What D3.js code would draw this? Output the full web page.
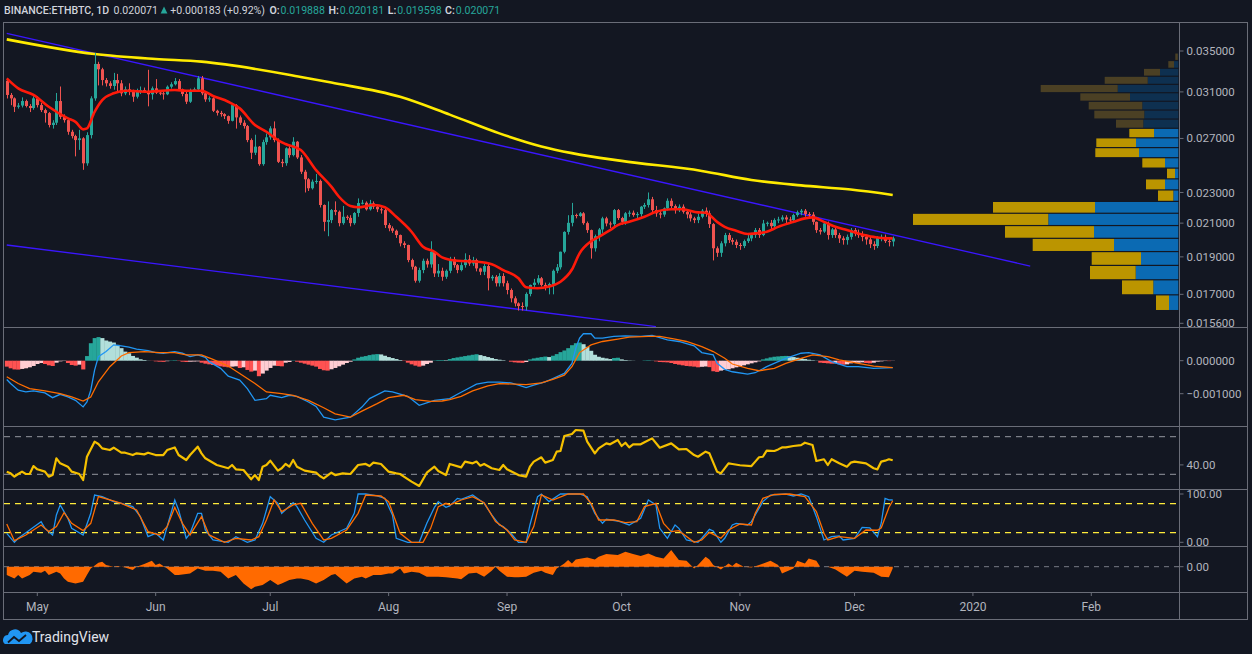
<!DOCTYPE html>
<html>
<head>
<meta charset="utf-8">
<title>ETHBTC 1D</title>
<script src="https://cdn.jsdelivr.net/npm/d3@7/dist/d3.min.js"></script>
<style>
  body { margin: 0; background: #131722; }
  svg { display: block; font-family: Roboto, "Liberation Sans", sans-serif; }
</style>
</head>
<body>
<div id="chart"></div>
<script>
//------------------------------ DATA ------------------------------//
// daily candles, first one is 2019-04-23
const firstDay = Date.UTC(2019, 3, 23);
const firstOpen = 0.03204;
const closes = [
 .03072,.03041,.02966,.02977,.03017,.02973,.02955,.03041,.02981,.02937,
 .02911,.02810,.02829,.03017,.02879,.02851,.02754,.02719,.02687,.02701,
 .02508,.02727,.03041,.03368,.03315,.03211,.03180,.03155,.03211,.03180,
 .03087,.03124,.03102,.03056,.03111,.03117,.03102,.03078,.03133,.03093,
 .03087,.03078,.03148,.03171,.03201,.03124,.03081,.03011,.03117,.03124,
 .03228,.03087,.03032,.03041,.02931,.02913,.02902,.02885,.02845,.02981,
 .02874,.02829,.02801,.02687,.02588,.02635,.02502,.02671,.02709,.02782,
 .02687,.02519,.02509,.02622,.02570,.02674,.02552,.02446,.02392,.02329,
 .02375,.02380,.02216,.02108,.02119,.02183,.02172,.02100,.02140,.02133,
 .02100,.02164,.02229,.02231,.02188,.02227,.02205,.02188,.02183,.02088,
 .02068,.02053,.02027,.01978,.01968,.01882,.01845,.01770,.01827,.01878,
 .01858,.01929,.01809,.01823,.01791,.01823,.01886,.01854,.01827,.01854,
 .01886,.01863,.01882,.01836,.01818,.01849,.01783,.01791,.01757,.01795,
 .01757,.01722,.01680,.01655,.01642,.01639,.01702,.01748,.01760,.01783,
 .01748,.01739,.01753,.01823,.01842,.01929,.02046,.02102,.02151,.02145,
 .02162,.02100,.02057,.01949,.02020,.02061,.02130,.02098,.02094,.02183,
 .02132,.02108,.02162,.02166,.02151,.02157,.02205,.02216,.02254,.02183,
 .02162,.02154,.02194,.02244,.02209,.02183,.02205,.02172,.02155,.02130,
 .02119,.02140,.02179,.02162,.02094,.01949,.01923,.01978,.02027,.01997,
 .01987,.01968,.01962,.01991,.02007,.02027,.02057,.02027,.02098,.02102,
 .02081,.02119,.02123,.02136,.02123,.02119,.02151,.02168,.02179,.02157,
 .02154,.02108,.02057,.02048,.02098,.02027,.02061,.02027,.02007,.01997,
 .02016,.02057,.02037,.02027,.02016,.02001,.01973,.01962,.02013,.02016,
 .01991,.019888,.020071
];
const highs = [
 .0323,.0309,.0305,.0300,.0305,.0303,.0299,.0306,.0306,.0300,
 .0295,.0292,.0285,.0309,.0315,.0290,.0287,.0277,.0273,.0277,
 .0271,.0275,.0306,.0348,.0339,.0333,.0323,.0320,.0328,.0327,
 .0321,.0315,.0318,.0312,.0313,.0315,.0314,.0331,.0315,.0322,
 .0311,.0311,.0316,.0319,.0323,.0322,.0313,.0310,.0313,.0314,
 .0325,.0325,.0310,.0306,.0305,.0294,.0293,.0291,.0289,.0300,
 .0299,.0289,.0285,.0281,.0270,.0273,.0264,.0269,.0274,.0280,
 .0284,.0270,.0254,.0263,.0264,.0271,.0268,.0257,.0246,.0240,
 .0239,.0243,.0239,.0222,.0224,.0219,.0224,.0218,.0221,.0215,
 .0215,.0217,.0226,.0225,.0224,.0225,.0224,.0222,.0220,.0219,
 .0210,.0208,.0206,.0203,.0199,.0197,.0189,.0185,.0184,.0189,
 .0189,.0199,.0193,.0186,.0184,.0183,.0190,.0190,.0186,.0187,
 .0192,.0191,.0190,.0189,.0184,.0186,.0186,.0180,.0180,.0181,
 .0181,.0177,.0173,.0169,.0166,.0166,.0171,.0175,.0178,.0180,
 .0179,.0176,.0176,.0183,.0186,.0193,.0205,.0215,.0223,.0216,
 .0217,.0217,.0211,.0206,.0203,.0207,.0214,.0214,.0211,.0219,
 .0219,.0214,.0217,.0218,.0218,.0217,.0221,.0223,.0230,.0227,
 .0221,.0218,.0220,.0226,.0226,.0222,.0222,.0222,.0218,.0217,
 .0214,.0216,.0219,.0220,.0218,.0210,.0196,.0199,.0204,.0204,
 .0201,.0200,.0198,.0200,.0203,.0204,.0207,.0207,.0212,.0211,
 .0212,.0213,.0214,.0215,.0215,.0214,.0216,.0218,.0219,.0219,
 .0217,.0217,.0211,.0207,.0211,.0211,.0207,.0207,.0204,.0202,
 .0203,.0207,.0207,.0206,.0205,.0203,.0202,.0199,.0202,.0203,
 .0203,.0201,.020181
];
const lows = [
 .0304,.0298,.0292,.0295,.0296,.0296,.0292,.0294,.0296,.0292,
 .0283,.0279,.0278,.0281,.0286,.0283,.0273,.0270,.0256,.0261,
 .0246,.0249,.0270,.0302,.0316,.0316,.0315,.0313,.0312,.0310,
 .0306,.0307,.0307,.0301,.0304,.0308,.0309,.0297,.0303,.0308,
 .0307,.0303,.0307,.0313,.0316,.0311,.0306,.0299,.0300,.0310,
 .0311,.0307,.0301,.0301,.0292,.0289,.0288,.0286,.0282,.0284,
 .0278,.0281,.0278,.0267,.0254,.0257,.0249,.0249,.0265,.0269,
 .0267,.0251,.0248,.0249,.0255,.0256,.0254,.0243,.0230,.0231,
 .0232,.0236,.0220,.0205,.0202,.0210,.0215,.0208,.0209,.0212,
 .0208,.0209,.0214,.0222,.0218,.0218,.0219,.0217,.0216,.0207,
 .0205,.0204,.0201,.0196,.0195,.0187,.0183,.0176,.0176,.0181,
 .0184,.0184,.0179,.0179,.0177,.0178,.0181,.0184,.0181,.0182,
 .0184,.0185,.0185,.0182,.0180,.0180,.0172,.0177,.0174,.0174,
 .0174,.0170,.0166,.0164,.0162,.0162,.0162,.0169,.0173,.0175,
 .0174,.0172,.0170,.0170,.0181,.0183,.0192,.0203,.0208,.0213,
 .0214,.0209,.0204,.0189,.0193,.0199,.0204,.0208,.0207,.0208,
 .0212,.0209,.0209,.0214,.0214,.0213,.0214,.0219,.0220,.0217,
 .0214,.0213,.0214,.0218,.0219,.0216,.0217,.0216,.0213,.0211,
 .0210,.0210,.0213,.0214,.0207,.0188,.0190,.0190,.0196,.0198,
 .0197,.0195,.0194,.0195,.0198,.0199,.0201,.0201,.0202,.0208,
 .0206,.0207,.0210,.0211,.0210,.0210,.0210,.0214,.0215,.0214,
 .0213,.0209,.0204,.0203,.0204,.0200,.0201,.0201,.0198,.0197,
 .0197,.0200,.0202,.0201,.0199,.0197,.0195,.0194,.0195,.0199,
 .0198,.0196,.019598
];

// moving averages: [day index, price]
const emaPts = [[0,.03227],[3,.03133],[7,.03072],[11,.02966],[16,.02866],[18,.02836],[20,.02774],[21,.02782],
 [23,.02922],[25,.03026],[28,.03087],[31,.03111],[37,.03102],[44,.03117],[47,.03111],[51,.03111],[54,.03063],
 [58,.03011],[61,.02952],[65,.02810],[68,.02754],[71,.02687],[73,.02656],[77,.02609],[81,.02458],[85,.02340],
 [87,.02271],[90,.02209],[92,.02201],[96,.02216],[99,.02201],[102,.02140],[106,.02047],[109,.01958],[112,.01929],
 [114,.01897],[118,.01878],[123,.01873],[127,.01859],[130,.01827],[134,.01783],[136,.01736],[139,.01731],
 [142,.01740],[145,.01765],[148,.01830],[150,.01920],[153,.01990],[155,.02016],[158,.02057],[160,.02088],
 [163,.02108],[167,.02140],[170,.02172],[174,.02188],[177,.02188],[181,.02168],[183,.02166],[186,.02108],
 [188,.02077],[191,.02053],[194,.02033],[196,.02037],[199,.02047],[202,.02077],[206,.02108],[209,.02130],
 [211,.02136],[214,.02108],[217,.02077],[220,.02057],[223,.02037],[227,.02016],[230,.02007],[232,.02007]];
const maPts = [[0,.03623],[23,.03469],[39,.03418],[51,.03391],[77,.03241],[85,.03187],[103,.03055],[116,.02898],
 [129,.02741],[140,.02637],[148,.02585],[161,.02526],[182,.02452],[195,.02387],[208,.02349],[221,.02320],[232,.02283]];
const upperTrend = [[0, 0.03689], [268, 0.01849]];
const lowerTrend = [[0, 0.01968], [170, 0.01545]];

// volume profile rows, bottom to top
const vpBottom = 0.0162, vpStep = 0.000775, vpValueAreaTop = 14;
const vpUp   = [93,250,426,373,643,843,1300,833,50,133,33,133,393,423,243,350,340,360,483,606,306,183,43,5];
const vpDown = [130,313,457,493,813,890,1353,1020,153,190,80,227,437,397,247,273,500,536,497,770,430,160,57,25];

// MACD (values in 1e-6)
const macdUnit = 1e-6;
const macdHist = [
 -180,-230,-265,-270,-250,-230,-200,-160,-100,-70,-100,-140,-160,-60,-20,-10,-70,-130,-150,-120,
 -265,140,530,685,715,685,612,580,550,480,380,275,225,144,92,43,21,5,-5,-20,
 -30,-35,-15,10,15,-10,-30,-40,-30,-25,-20,-60,-90,-110,-130,-150,-170,-185,-200,-180,
 -170,-220,-200,-280,-330,-300,-470,-390,-300,-220,-150,-160,-170,-60,-40,10,-30,-60,-90,-120,
 -150,-180,-250,-290,-300,-260,-220,-170,-120,-70,-30,40,90,120,140,170,190,200,190,150,
 110,80,50,20,-10,-60,-110,-150,-180,-150,-100,-60,10,20,20,15,50,80,100,120,
 140,160,180,196,170,140,110,80,50,30,15,0,-30,-50,-60,-65,-40,40,70,90,
 110,125,110,150,200,260,310,380,470,530,550,500,420,300,180,120,90,70,50,80,
 90,40,20,10,5,0,0,10,15,5,-20,-40,-45,-50,-70,-100,-120,-140,-160,-170,
 -180,-200,-185,-175,-195,-320,-340,-300,-280,-260,-230,-200,-170,-140,-110,-80,-50,-20,40,70,
 100,120,130,140,145,130,110,90,70,50,30,15,5,-60,-70,-80,-90,-80,-110,-120,
 -110,-80,-70,-60,-50,-70,-80,-60,-30,-20,-10,-12,-5
];
const macdPts = [[0,-569],[1,-692],[3,-895],[5,-946],[7,-916],[10,-977],[12,-1120],[14,-1018],[16,-1099],[18,-1201],
 [20,-1400],[21,-1250],[22,-895],[23,-284],[24,124],[26,277],[28,480],[30,450],[32,409],[34,348],[37,307],[39,246],
 [41,226],[44,277],[46,226],[48,124],[50,175],[52,103],[53,-29],[56,-233],[58,-467],[61,-590],[63,-844],[65,-1201],
 [68,-1150],[69,-1048],[72,-1120],[74,-1048],[76,-1079],[79,-1252],[81,-1384],[83,-1710],[86,-1792],[90,-1710],
 [93,-1405],[95,-1150],[99,-916],[101,-946],[105,-1079],[108,-1354],[112,-1201],[116,-1150],[118,-1018],[120,-895],
 [123,-712],[126,-651],[129,-651],[132,-671],[134,-743],[136,-814],[138,-743],[141,-640],[143,-539],[146,-386],
 [148,-80],[149,378],[150,684],[151,817],[153,817],[154,684],[156,684],[159,735],[162,755],[166,735],[169,766],
 [173,633],[176,582],[180,450],[182,246],[185,175],[186,-80],[188,-263],[190,-335],[194,-406],[196,-365],[199,-182],
 [202,-29],[204,73],[208,226],[210,246],[213,175],[216,-29],[220,-182],[223,-182],[227,-233],[232,-212]];
const signalPts = [[0,-488],[3,-692],[6,-844],[10,-916],[14,-997],[17,-1099],[20,-1221],[22,-1099],[24,-640],[27,-182],
 [30,144],[32,246],[36,277],[40,246],[44,246],[47,175],[51,175],[54,42],[58,-162],[61,-386],[65,-692],[68,-946],
 [72,-997],[75,-1048],[79,-1201],[83,-1425],[86,-1609],[90,-1710],[93,-1527],[97,-1303],[100,-1120],[104,-1048],
 [107,-1181],[111,-1232],[114,-1221],[116,-1181],[119,-1079],[122,-916],[126,-763],[129,-692],[133,-712],[136,-722],
 [140,-671],[143,-569],[146,-437],[148,-182],[150,246],[153,480],[156,582],[160,654],[163,715],[168,735],[171,735],
 [175,654],[178,582],[182,429],[185,277],[188,73],[190,-100],[194,-233],[197,-304],[201,-233],[204,-80],[208,73],
 [211,175],[215,124],[218,22],[223,-80],[227,-162],[232,-212]];

// RSI
const rsiPts = [[0,32.8],[1,31],[2,27.5],[3,30.3],[4,32.8],[5,30.3],[6,30.3],[7,38.8],[8,35.3],[10,32.8],[11,27.5],
 [12,29.2],[13,47],[14,41.7],[16,38.1],[17,32.8],[19,30.3],[20,23.9],[21,48.7],[23,64.7],[24,62.2],[25,57.6],[27,55.8],
 [28,58.3],[30,53],[31,53],[33,50.5],[34,52.3],[36,51.2],[37,53],[39,50.5],[41,50.5],[42,55.8],[44,58.6],[45,50.5],
 [47,45.2],[48,50.5],[50,59.4],[51,52.3],[52,47],[55,39.9],[58,36.4],[59,39.9],[60,35.3],[62,34.6],[64,24.7],[65,29.2],
 [66,23.9],[67,38.1],[68,39.9],[69,44.5],[71,33.9],[72,36.4],[73,41],[74,38.1],[75,45.2],[76,38.1],[78,33.9],[81,31.7],
 [82,28.2],[83,25.7],[85,31.7],[86,29.2],[88,31],[90,30.3],[92,39.9],[94,41],[95,38.8],[96,42.4],[98,41],[100,32.8],
 [102,31],[103,30.3],[104,27.5],[106,22.2],[108,17.6],[110,31.7],[112,38.1],[113,33.5],[115,29.2],[116,41],[119,37.4],
 [120,43.5],[122,41.7],[123,43.5],[124,39.2],[125,41],[127,36.4],[129,34.6],[130,39.9],[131,35.3],[134,29.2],[136,27.5],
 [137,38.1],[138,43.5],[140,48.1],[141,42.4],[143,45.2],[144,54.1],[145,54.8],[146,70.7],[148,72.9],[149,77.1],
 [151,76.4],[152,64.7],[154,52.3],[155,57.6],[157,62.9],[158,61.9],[160,66.5],[161,60.1],[162,63.6],[163,58.6],
 [164,61.9],[166,61.9],[167,64],[169,68.2],[171,58.3],[174,62.9],[176,56.5],[178,56.9],[180,50.5],[181,48.7],
 [183,54.1],[184,52.3],[186,32.8],[187,31],[189,41.7],[190,41],[192,39.6],[195,38.8],[196,43.5],[197,48.1],[198,48.7],
 [199,55.1],[201,54.8],[202,56.5],[203,58.6],[204,58.6],[206,60.1],[208,61.1],[209,63.6],[211,61.1],[212,44.2],
 [214,46],[215,39.9],[216,46],[218,41.7],[220,38.1],[221,42.4],[222,43.5],[225,41.7],[227,36.4],[228,35.3],[229,43.5],
 [230,44.5],[231,46],[232,45]];

// Stochastic RSI
const stochK = [[0,18.6],[2,0],[3,8.3],[6,25.5],[9,42.8],[10,28.9],[12,15.2],[13,56.6],[14,77.3],[16,49.7],[17,28.9],
 [20,15.2],[22,60],[23,97.9],[25,94.5],[28,84.2],[30,80.7],[33,73.8],[35,53.1],[37,11.7],[39,18.6],[41,4.8],[44,87.6],
 [45,66.9],[47,8.3],[48,18.6],[50,60],[51,60],[52,25.5],[54,4.8],[58,0],[60,11.7],[63,0],[65,4.8],[67,39.3],[69,94.5],
 [71,80.7],[72,60],[75,82.1],[76,73.8],[78,46.2],[81,8.3],[83,0],[85,15.2],[89,28.9],[91,60],[92,100],[94,100],
 [97,95.9],[99,91],[101,56.6],[102,8.3],[105,0],[108,0],[110,39.3],[112,72.4],[113,84.2],[115,72.4],[116,75.2],
 [118,91],[119,89],[122,97.9],[125,80.7],[127,56.6],[129,35.9],[130,32.4],[132,18.6],[134,0],[136,0],[137,35.9],
 [139,94.5],[140,100],[142,84.2],[145,100],[150,100],[152,94.5],[154,60],[156,39.3],[157,47.6],[160,44.1],[163,35.9],
 [166,49.7],[168,87.6],[170,77.3],[171,28.9],[173,8.3],[175,35.9],[176,28.9],[178,4.8],[181,0],[182,8.3],[184,26.9],
 [185,23.4],[187,0],[188,8.3],[190,35.9],[191,39.3],[194,35.9],[195,42.8],[198,84.2],[200,97.9],[204,100],[206,95.9],
 [208,100],[210,94.5],[212,53.1],[214,4.8],[216,11.7],[218,13.1],[219,4.8],[222,8.3],[224,31],[226,30],[228,11.6],
 [229,40],[230,91],[231,88],[232,87.6]];
const stochD = [[0,37.9],[2,3.4],[5,15.2],[9,35.9],[11,22.1],[13,32.4],[15,61.4],[17,39.3],[20,24.1],[22,39.3],[24,94.5],
 [27,87.6],[30,80.7],[34,66.9],[37,22.1],[40,15.2],[42,32.4],[44,72.4],[46,39.3],[48,15.2],[51,53.1],[53,15.2],[57,0],
 [60,8.3],[64,4.8],[66,11.7],[68,46.2],[70,87.6],[72,63.5],[75,77.3],[77,80.7],[80,39.3],[83,4.8],[85,8.3],[89,25.5],
 [92,60],[94,97.9],[98,95.9],[100,84.2],[103,18.6],[106,0],[109,0],[111,28.9],[113,73.8],[115,80.7],[116,77.3],
 [119,87.6],[122,94.5],[125,82.1],[128,42.8],[131,25.5],[133,4.8],[136,0],[138,32.4],[140,97.9],[141,94.5],[143,87.6],
 [147,100],[151,100],[153,80.7],[155,46.2],[159,46.2],[162,40.7],[165,42.8],[167,73.8],[170,80.7],[172,39.3],[174,22.1],
 [176,24.1],[180,0],[182,4.8],[184,20.7],[187,8.3],[189,25.5],[192,37.9],[195,35.9],[196,60],[198,91],[201,99],
 [205,100],[209,94.5],[212,63.5],[214,18.6],[215,4.8],[218,11.7],[222,8.3],[225,25.5],[228,25],[229,30],[231,72],[232,86]];

// bottom oscillator
const oscPts = [[0,-8.3],[1,-10],[2,-11.7],[3,-8.3],[4,-11.7],[6,-8.3],[7,-5],[9,-6],[10,-4],[11,-8.3],[13,-5],[14,-6.7],
 [15,-11.7],[16,-15],[18,-16.7],[20,-15],[21,-8.3],[22,-1.7],[24,4],[25,5],[26,1.7],[28,0],[29,0.7],[31,-0.7],[33,-3.3],
 [34,0],[36,2.7],[38,6],[39,1.7],[40,3.3],[42,-1.7],[44,-8.3],[45,-8.3],[48,-6.7],[50,-1.7],[52,-4],[54,-4],[56,-5],
 [58,-11.7],[59,-10],[60,-8.3],[62,-16.7],[64,-22.6],[65,-20],[67,-18.3],[69,-13.3],[71,-18.3],[72,-16.7],[74,-13.3],
 [76,-11.7],[77,-11.7],[79,-13.3],[81,-16.7],[83,-13.3],[85,-8.3],[86,-7.3],[89,-16.7],[91,-11.7],[93,-10],[94,-11.7],
 [96,-8.3],[98,-8.3],[100,-6.7],[101,-6.7],[103,-1.7],[104,-6.7],[106,-5],[108,-6],[110,-10],[112,-10],[113,-10],
 [115,-10.6],[118,-11.7],[119,-12.6],[121,-6.7],[123,-6],[125,-10],[127,-4],[128,0],[129,-4],[131,-10],[133,-10.6],
 [134,-10.6],[136,-10],[138,-6],[140,-4],[141,-6],[143,-8.3],[144,-1.7],[146,3.3],[147,6.7],[148,3.3],[149,7.3],
 [152,9.3],[154,7.3],[155,10],[157,12.7],[160,11.7],[162,15],[164,12.7],[166,10.7],[168,13.3],[170,10],[172,8.3],
 [174,16.7],[176,6.7],[178,6],[180,-1.7],[181,1.7],[183,10],[184,7.3],[185,1.7],[187,-2.7],[189,3.3],[190,0.7],[191,4],
 [193,0],[195,-0.7],[197,1.7],[200,6],[202,1.7],[203,-6.7],[206,-1.7],[207,6],[209,3.3],[210,8.3],[212,6],[213,0],
 [215,0],[217,-2.7],[220,-10],[222,-4],[224,-5],[227,-6],[229,-10],[231,-10.6],[232,-1.7]];

// axes
const priceTicks = [0.035, 0.031, 0.027, 0.023, 0.021, 0.019, 0.017, 0.0156];
const monthTicks = [[2019,4,"May"],[2019,5,"Jun"],[2019,6,"Jul"],[2019,7,"Aug"],[2019,8,"Sep"],[2019,9,"Oct"],
 [2019,10,"Nov"],[2019,11,"Dec"],[2020,0,"2020"],[2020,1,"Feb"]];

//------------------------------ SETUP ------------------------------//
const W = 1252, H = 654;
const plotL = 4, plotR = 1179.5, frameR = 1247;
const panes = [[23, 327], [327, 426], [426, 489], [489, 546], [546, 592]];
const axisBottom = 619;
const textCol = "#b2b5be", lineCol = "#6a6d78";
const upCol = "#26a69a", downCol = "#ef5350";

const dayAt = i => new Date(firstDay + i * 864e5);

const svg = d3.select("#chart").append("svg").attr("width", W).attr("height", H);
svg.append("rect").attr("width", W).attr("height", H).attr("fill", "#131722");

const x = d3.scaleUtc()
    .domain([new Date(Date.UTC(2019, 4, 1)), new Date(Date.UTC(2020, 1, 1))])
    .range([37.3, 1091.3]);
const yP = d3.scaleLog().domain([0.0156, 0.035]).range([323.3, 51]);
const yM = d3.scaleLinear().domain([-0.001, 0]).range([393.7, 360.7]);
const yR = d3.scaleLinear().domain([30, 70]).range([474.3, 436.7]);
const yS = d3.scaleLinear().domain([0, 100]).range([542.3, 494]);
const yO = d3.scaleLinear().domain([-10, 10]).range([576.7, 556.7]);

const defs = svg.append("defs");
panes.forEach((p, k) => {
    defs.append("clipPath").attr("id", "clip" + k)
        .append("rect").attr("x", plotL).attr("y", p[0]).attr("width", plotR - plotL).attr("height", p[1] - p[0]);
});
const pane = k => svg.append("g").attr("clip-path", "url(#clip" + k + ")");

const candles = closes.map((c, i) => {
    const o = i === 0 ? firstOpen : closes[i - 1];
    return {date: dayAt(i), o: o, c: c, h: Math.max(highs[i], o, c), l: Math.min(lows[i], o, c)};
});

//------------------------------ MAIN PANE ------------------------------//
const g0 = pane(0);

// volume profile
const vpTotal = vpUp.map((u, k) => u + vpDown[k]);
const vx = d3.scaleLinear().domain([0, d3.max(vpTotal)]).range([0, 265.3]);
const vpRows = vpUp.map((u, k) => ({k: k, up: u, down: vpDown[k], lo: vpBottom + k * vpStep, hi: vpBottom + (k + 1) * vpStep}));
const vpRight = plotR - 1.2;
g0.selectAll("rect.vpu").data(vpRows).join("rect")
    .attr("x", d => vpRight - vx(d.up)).attr("width", d => vx(d.up))
    .attr("y", d => yP(d.hi) + 0.6).attr("height", d => yP(d.lo) - yP(d.hi) - 1.2)
    .attr("fill", d => d.k <= vpValueAreaTop ? "#0b6ab3" : "#0e3050");
g0.selectAll("rect.vpd").data(vpRows).join("rect")
    .attr("x", d => vpRight - vx(d.up) - vx(d.down)).attr("width", d => vx(d.down))
    .attr("y", d => yP(d.hi) + 0.6).attr("height", d => yP(d.lo) - yP(d.hi) - 1.2)
    .attr("fill", d => d.k <= vpValueAreaTop ? "#bb9500" : "#4b4024");

// trend lines
[upperTrend, lowerTrend].forEach(t => {
    g0.append("line")
        .attr("x1", x(dayAt(t[0][0]))).attr("y1", yP(t[0][1]))
        .attr("x2", x(dayAt(t[1][0]))).attr("y2", yP(t[1][1]))
        .attr("stroke", "#3a16ff").attr("stroke-width", 1.3);
});

const priceLine = d3.line().x(d => x(dayAt(d[0]))).y(d => yP(d[1])).curve(d3.curveMonotoneX);
g0.append("path").attr("d", priceLine(maPts)).attr("fill", "none")
    .attr("stroke", "#ffeb00").attr("stroke-width", 2.6);

// candles
g0.selectAll("line.wick").data(candles).join("line")
    .attr("x1", d => Math.round(x(d.date)) + 0.5).attr("x2", d => Math.round(x(d.date)) + 0.5)
    .attr("y1", d => yP(d.h)).attr("y2", d => yP(d.l))
    .attr("stroke", d => d.c >= d.o ? upCol : downCol).attr("stroke-width", 1);
g0.selectAll("rect.body").data(candles).join("rect")
    .attr("x", d => Math.round(x(d.date)) - 1).attr("width", 3)
    .attr("y", d => yP(Math.max(d.o, d.c)))
    .attr("height", d => Math.max(1, Math.abs(yP(d.o) - yP(d.c))))
    .attr("fill", d => d.c >= d.o ? upCol : downCol);

g0.append("path").attr("d", priceLine(emaPts)).attr("fill", "none")
    .attr("stroke", "#ff1a0a").attr("stroke-width", 2.6);

//------------------------------ MACD ------------------------------//
const g1 = pane(1);
const bw = x(dayAt(1)) - x(dayAt(0));
g1.selectAll("rect.hist").data(macdHist).join("rect")
    .attr("x", (v, i) => x(dayAt(i)) - bw / 2).attr("width", bw + 0.3)
    .attr("y", v => yM(Math.max(0, v * macdUnit)))
    .attr("height", v => Math.abs(yM(v * macdUnit) - yM(0)))
    .attr("fill", (v, i) => {
        const p = i > 0 ? macdHist[i - 1] : v;
        if (v >= 0) return v >= p ? "#26a69a" : "#b2dfdb";
        return v <= p ? "#ff5252" : "#ffcdd2";
    });
const macdLine = d3.line().x(d => x(dayAt(d[0]))).y(d => yM(d[1] * macdUnit));
g1.append("path").attr("d", macdLine(macdPts)).attr("fill", "none").attr("stroke", "#2196f3").attr("stroke-width", 1.3);
g1.append("path").attr("d", macdLine(signalPts)).attr("fill", "none").attr("stroke", "#ff6d00").attr("stroke-width", 1.3);

//------------------------------ RSI ------------------------------//
const g2 = pane(2);
[70, 30].forEach(v => g2.append("line").attr("x1", plotL).attr("x2", plotR)
    .attr("y1", yR(v)).attr("y2", yR(v)).attr("stroke", "#9598a1").attr("stroke-dasharray", "6,5"));
g2.append("path").attr("d", d3.line().x(d => x(dayAt(d[0]))).y(d => yR(d[1]))(rsiPts))
    .attr("fill", "none").attr("stroke", "#f5c000").attr("stroke-width", 2.2).attr("stroke-linejoin", "round");

//------------------------------ STOCH RSI ------------------------------//
const g3 = pane(3);
[80, 20].forEach(v => g3.append("line").attr("x1", plotL).attr("x2", plotR)
    .attr("y1", yS(v)).attr("y2", yS(v)).attr("stroke", "#ffeb3b").attr("stroke-width", 1.3).attr("stroke-dasharray", "6,5"));
const stochLine = d3.line().x(d => x(dayAt(d[0]))).y(d => yS(d[1]));
g3.append("path").attr("d", stochLine(stochK)).attr("fill", "none").attr("stroke", "#2196f3").attr("stroke-width", 1.3);
g3.append("path").attr("d", stochLine(stochD)).attr("fill", "none").attr("stroke", "#ff6d00").attr("stroke-width", 1.3);

//------------------------------ OSCILLATOR ------------------------------//
const g4 = pane(4);
g4.append("line").attr("x1", plotL).attr("x2", plotR).attr("y1", yO(0)).attr("y2", yO(0))
    .attr("stroke", "#787b86").attr("stroke-dasharray", "5,5");
g4.append("path").attr("d", d3.area().x(d => x(dayAt(d[0]))).y0(yO(0)).y1(d => yO(d[1]))(oscPts))
    .attr("fill", "#ff6a00");

//------------------------------ FRAME & AXES ------------------------------//
const frame = svg.append("g").attr("stroke", lineCol).attr("fill", "none");
frame.append("rect").attr("x", plotL - 0.5).attr("y", panes[0][0] - 0.5)
    .attr("width", frameR - plotL + 1).attr("height", axisBottom - panes[0][0] + 1);
panes.forEach(p => frame.append("line").attr("x1", plotL).attr("x2", frameR).attr("y1", p[1] + 0.5).attr("y2", p[1] + 0.5));
frame.append("line").attr("x1", plotR).attr("x2", plotR).attr("y1", panes[0][0]).attr("y2", axisBottom);

const axisLabel = (y, txt) => {
    svg.append("line").attr("x1", plotR).attr("x2", plotR + 4).attr("y1", y).attr("y2", y).attr("stroke", lineCol);
    svg.append("text").attr("x", plotR + 7).attr("y", y).attr("dy", "0.35em")
        .attr("fill", textCol).attr("font-size", 11.5).text(txt);
};
priceTicks.forEach(p => axisLabel(yP(p), p.toFixed(6)));
axisLabel(yM(0), "0.000000");
axisLabel(yM(-0.001), "\u22120.001000");
axisLabel(yR(40), "40.00");
axisLabel(yS(100), "100.00");
axisLabel(yS(0), "0.00");
axisLabel(yO(0), "0.00");

monthTicks.forEach(m => {
    const xx = x(new Date(Date.UTC(m[0], m[1], 1)));
    svg.append("line").attr("x1", xx).attr("x2", xx).attr("y1", panes[4][1]).attr("y2", panes[4][1] + 4).attr("stroke", lineCol);
    svg.append("text").attr("x", xx).attr("y", 607).attr("dy", "0.35em").attr("text-anchor", "middle")
        .attr("fill", textCol).attr("font-size", 12).text(m[2]);
});

//------------------------------ HEADER ------------------------------//
// label, colour, weight, gap before (px at 12px font)
const headerParts = [
    ["BINANCE:ETHBTC, 1D", "#d1d4dc", 500, 0],
    ["0.020071", "#d1d4dc", 400, 5],
    ["+0.000183 (+0.92%)", "#d1d4dc", 400, 14],
    ["O:", "#d1d4dc", 600, 5], ["0.019888", upCol, 400, 1],
    ["H:", "#d1d4dc", 600, 4], ["0.020181", upCol, 400, 1],
    ["L:", "#d1d4dc", 600, 4], ["0.019598", upCol, 400, 1],
    ["C:", "#d1d4dc", 600, 4], ["0.020071", upCol, 400, 1]
];
const headerG = svg.append("g");
const headerTexts = headerParts.map(h => headerG.append("text").attr("y", 14).attr("fill", h[1])
    .attr("font-weight", h[2]).attr("font-size", 12).text(h[0]));
// fit the whole header line to the width it takes in the picture
let natural = 0;
headerTexts.forEach((t, k) => { natural += headerParts[k][3] + t.node().getComputedTextLength(); });
const fs = Math.min(12.5, 12 * 497 / natural);
let hx = 4, triX = 0;
headerTexts.forEach((t, k) => {
    hx += headerParts[k][3] * fs / 12;
    if (k === 2) triX = hx - 11 * fs / 12;
    t.attr("font-size", fs).attr("x", hx);
    hx += t.node().getComputedTextLength();
});
svg.append("path").attr("d", `M${triX},13.5 l3.4,-7 l3.4,7 Z`).attr("fill", upCol);

//------------------------------ FOOTER ------------------------------//
svg.append("path")
    .attr("d", "M5,644 a5,5 0 0 1 3,-9 a7,7 0 0 1 13,-2 a5.5,5.5 0 0 1 9,11 z")
    .attr("fill", "#2196f3");
svg.append("path").attr("d", "M8,642.5 l6,-5.5 l5,4 l7,-6").attr("fill", "none")
    .attr("stroke", "#131722").attr("stroke-width", 1.8);
svg.append("text").attr("x", 32).attr("y", 642).attr("fill", "#e0e3eb")
    .attr("font-size", 14).text("TradingView");
</script>
</body>
</html>
